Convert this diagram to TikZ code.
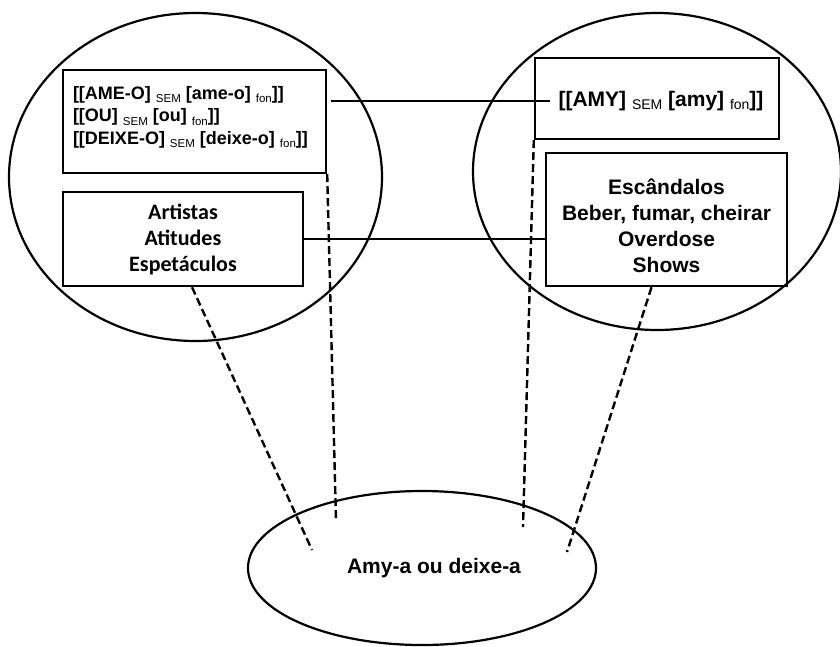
\documentclass[tikz,border=0pt]{standalone}
\usepackage{fontspec}
\setmainfont{Liberation Sans}
\newfontfamily\carlito{Carlito}
\usetikzlibrary{positioning, shapes.geometric, calc}

\newcommand{\subtag}[2][11.5]{\raisebox{-3.5pt}{\fontsize{#1}{#1}\selectfont\mdseries #2}}

\begin{document}
\begin{tikzpicture}[x=1pt, y=-1pt, line width=2.4pt,
    font=\bfseries\fontsize{21}{26}\selectfont,
    box/.style={draw, rectangle, inner sep=0pt},
    field/.style={draw, ellipse, inner sep=0pt, line width=2.2pt},
    link/.style={dash pattern=on 8pt off 4pt}]
  \useasboundingbox (0,0) rectangle (840,646);

  \node[field, minimum width=373pt, minimum height=328pt] (left) at (195.5,177) {};
  \node[field, minimum width=368pt, minimum height=317pt] (right) at (657,171.5) {};
  \node[field, minimum width=348pt, minimum height=154pt] (amya) at (422,568)
    {\hspace*{24pt}Amy-a ou deixe-a};

  \node[box, minimum width=263pt, minimum height=103pt] (box1) at (194.5,121.5) {};
  \node[anchor=north west, inner sep=0pt, align=left, font=\bfseries\fontsize{18}{22.5}\selectfont]
    (sem) at ([shift={(10pt,-16pt)}]box1.north west)
    {[[AME-O] \subtag{SEM} [ame-o] \subtag{fon}]]\\{}[[OU] \subtag{SEM} [ou] \subtag{fon}]]\\{}[[DEIXE-O] \subtag{SEM} [deixe-o] \subtag{fon}]]};
  \node[box, minimum width=240pt, minimum height=94pt, align=center,
    font=\carlito\bfseries\fontsize{22}{26}\selectfont] (box2) at (183,239)
    {Artistas\\Atitudes\\Espetáculos};

  \node[box, minimum width=244pt, minimum height=81pt] (box3) at (657,98.5) {};
  \node[inner xsep=7pt, inner ysep=0pt] (amy) at (661,101)
    {[[AMY] \subtag[14]{SEM} [amy] \subtag[14]{fon}]]};
  \node[box, minimum width=241pt, minimum height=133pt] (box4) at (666.5,219.5) {};
  \node[align=center, inner sep=0pt] (acts) at (666.5,225.5)
    {Escândalos\\Beber, fumar, cheirar\\Overdose\\Shows};

  \draw ([xshift=4pt]box1.east |- amy.west) -- (amy.west);
  \draw (box2.east) -- (box4.west |- box2.east);

  \coordinate (e1) at (312,550);
  \coordinate (e2) at (336,520);
  \coordinate (e3) at (523,527);
  \coordinate (e4) at (567,552);
  \draw[link] ([xshift=9pt]box2.south) -- (e1);
  \draw[link] (box1.south east) -- (e2);
  \draw[link] (box3.south west) -- (e3);
  \draw[link] ([xshift=-15pt]box4.south) -- (e4);
\end{tikzpicture}
\end{document}
